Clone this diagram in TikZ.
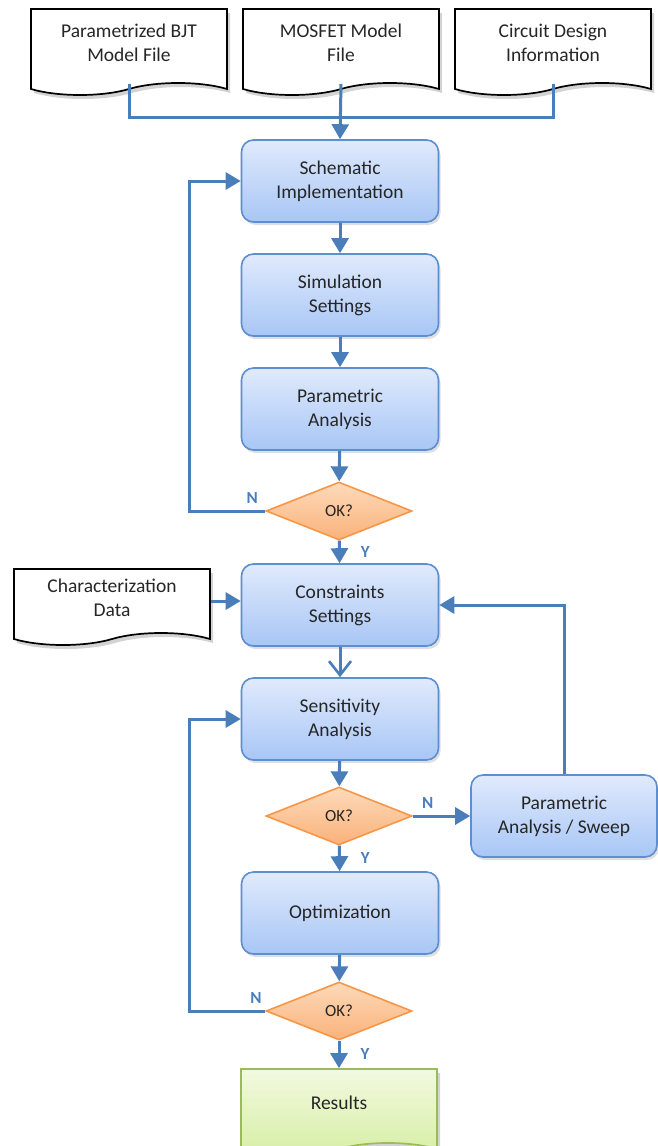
\documentclass[tikz,border=0pt]{standalone}
\usepackage{fontspec}
\setmainfont{Carlito}
\usepackage{tikz}
\usetikzlibrary{arrows.meta,shapes.geometric,shapes.symbols,shadows}
\definecolor{flowblue}{RGB}{74,126,187}
\definecolor{boxline}{RGB}{92,142,208}
\definecolor{boxtop}{RGB}{224,234,252}
\definecolor{boxbot}{RGB}{168,198,246}
\definecolor{decline}{RGB}{247,150,70}
\definecolor{dectop}{RGB}{253,218,186}
\definecolor{decbot}{RGB}{250,178,122}
\definecolor{resline}{RGB}{155,187,89}
\definecolor{restop}{RGB}{242,249,224}
\definecolor{resbot}{RGB}{214,238,164}

\begin{document}
\begin{tikzpicture}[x=1pt,y=-1pt,font=\fontsize{19.5}{24}\selectfont,
  process/.style={rectangle,rounded corners=12pt,draw=boxline,line width=1.6pt,top color=boxtop,bottom color=boxbot,text=black!85,minimum width=197,minimum height=82,align=center,drop shadow={opacity=0.25,shadow xshift=2pt,shadow yshift=-3pt}},
  document/.style={tape,tape bend top=none,tape bend bottom=in and out,tape bend height=12pt,draw=black,line width=1.7pt,fill=white,text=black!85,minimum width=196,minimum height=86,text depth=7pt,align=center,drop shadow={opacity=0.35,shadow xshift=3pt,shadow yshift=-4pt}},
  decision/.style={diamond,draw=decline,line width=1.6pt,top color=dectop,bottom color=decbot,text=black!85,minimum width=146,minimum height=58,inner sep=0pt,font=\fontsize{17}{20}\selectfont},
  result/.style={document,draw=resline,top color=restop,bottom color=resbot,drop shadow={opacity=0}},
  flow/.style={draw=flowblue,line width=3pt,-{Triangle[length=15pt,width=17pt]}},
  flowopen/.style={draw=flowblue,line width=3pt,-{Straight Barb[length=14pt,width=22pt,line width=2.6pt]}},
  line/.style={draw=flowblue,line width=3pt},
  answer/.style={font=\fontsize{17}{20}\selectfont\bfseries,text=flowblue,inner sep=2pt}]
\useasboundingbox (0,0) rectangle (657,1146);

% inputs
\node[document] (bjt) at (129,46) {Parametrized BJT\\Model File};
\node[document] (mosfet) at (341,46) {MOSFET Model\\File};
\node[document] (info) at (553,46) {Circuit Design\\Information};
\node[document,minimum height=76] (chardata) at (112,601) {Characterization\\Data};

% first loop
\node[process] (schem) at (340,181) {Schematic\\Implementation};
\node[process] (sim) at (340,295) {Simulation\\Settings};
\node[process] (param) at (340,409) {Parametric\\Analysis};
\node[decision] (ok1) at (339,511) {OK?};

% second part
\node[process] (cons) at (340,605) {Constraints\\Settings};
\node[process] (sens) at (340,719) {Sensitivity\\Analysis};
\node[decision] (ok2) at (339,816) {OK?};
\node[process,minimum width=186] (sweep) at (564,816) {Parametric\\Analysis / Sweep};
\node[process] (opt) at (340,913) {Optimization};
\node[decision] (ok3) at (339,1011) {OK?};
\node[result] (results) at (339,1106) {Results};

\coordinate (join) at (341,117);
\draw[line] (bjt.south) |- (join) -| (info.south);
\draw[flow] (mosfet.south) -- (schem.north);

\draw[flow] (schem) -- (sim);
\draw[flow] (sim) -- (param);
\draw[flow] (param) -- (ok1);
\draw[flow] (ok1.west) -- node[answer,pos=0.17,above=4pt] {N} ++(-76,0) |- (schem.west);
\draw[flow] (ok1) -- node[answer,midway,right=18pt] {Y} (cons);

\draw[flow] (chardata.east) -- (chardata.east -| cons.west);
\draw[flow] (sweep.north) |- (cons.east);
\draw[flowopen] (cons) -- (sens);
\draw[flow] (sens) -- (ok2);
\draw[flow] (ok2) -- node[answer,pos=0.26,above=4pt] {N} (sweep);
\draw[flow] (ok2) -- node[answer,midway,right=18pt] {Y} (opt);
\draw[flow] (opt) -- (ok3);
\draw[flow] (ok3.west) -- node[answer,pos=0.12,above=4pt] {N} ++(-76,0) |- (sens.west);
\draw[flow] (ok3) -- node[answer,midway,right=18pt] {Y} (results);
\end{tikzpicture}
\end{document}
